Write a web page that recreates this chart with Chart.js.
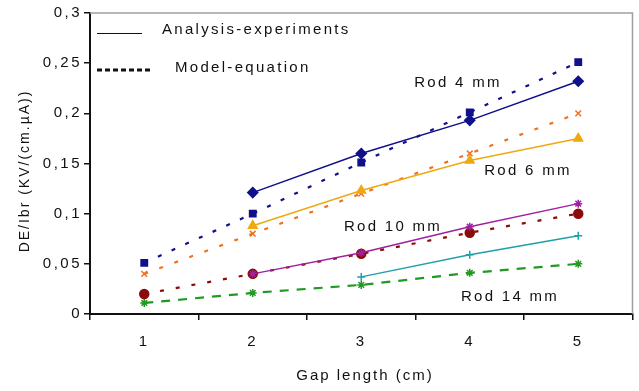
<!DOCTYPE html>
<html>
<head>
<meta charset="utf-8">
<script src="https://cdn.jsdelivr.net/npm/chart.js@4"></script>
<style>
  html, body { margin: 0; padding: 0; background: #fff; }
  #wrap { width: 639px; height: 391px; }
</style>
</head>
<body>
<div id="wrap"><canvas id="chart" width="639" height="391"></canvas></div>
<script>
// gap length categories (cm)
const gaps = ['1', '2', '3', '4', '5'];

// analysis-experiments (solid lines)
const rod4Analysis = [null, 0.121, 0.160, 0.193, 0.232];
const rod6Analysis = [null, 0.088, 0.123, 0.153, 0.175];
const rod10Analysis = [null, 0.040, 0.061, 0.087, 0.110];
const rod14Analysis = [null, null, 0.037, 0.059, 0.078];

// model-equation (dashed lines)
const rod4Model = [0.051, 0.100, 0.151, 0.201, 0.251];
const rod6Model = [0.040, 0.080, 0.120, 0.160, 0.200];
const rod10Model = [0.020, 0.040, 0.060, 0.081, 0.100];
const rod14Model = [0.011, 0.021, 0.029, 0.041, 0.050];

const yTicks = [0, 0.05, 0.1, 0.15, 0.2, 0.25, 0.3];
const yTickLabels = ['0', '0,05', '0,1', '0,15', '0,2', '0,25', '0,3'];

const rodLabels = [
    { text: 'Rod 4 mm', x: 458, y: 83 },
    { text: 'Rod 6 mm', x: 528, y: 171 },
    { text: 'Rod 10 mm', x: 393, y: 227 },
    { text: 'Rod 14 mm', x: 510, y: 297 }
];

const FONT = '"Liberation Sans", Arial, sans-serif';

function solid(label, data, color, style, radius) {
    return {
        label, data, borderColor: color, backgroundColor: color,
        borderWidth: 1.5, pointStyle: style, pointRadius: radius,
        pointBorderWidth: 1.5, order: 1
    };
}

function dashed(label, data, color, style, radius, dash) {
    return {
        label, data, borderColor: color, backgroundColor: color,
        borderWidth: 2.2, borderDash: dash, pointStyle: style, pointRadius: radius,
        pointBorderWidth: 1.5, order: 2
    };
}

const textPlugin = {
    id: 'texts',
    beforeDraw(chart) {
        // wide letter spacing for all texts, ticks included
        chart.ctx.letterSpacing = '2.5px';
    },
    beforeDatasetsDraw(chart) {
        const { ctx, chartArea } = chart;
        ctx.save();
        ctx.strokeStyle = '#a0a0a0';
        ctx.lineWidth = 1.5;
        ctx.beginPath();
        ctx.moveTo(chartArea.left, chartArea.top);
        ctx.lineTo(chartArea.right, chartArea.top);
        ctx.lineTo(chartArea.right, chartArea.bottom);
        ctx.stroke();
        ctx.restore();
    },
    afterDraw(chart) {
        const { ctx } = chart;
        ctx.save();
        ctx.fillStyle = '#111';
        ctx.font = '15px ' + FONT;
        ctx.letterSpacing = '2.3px';
        ctx.textBaseline = 'middle';

        // legend
        ctx.strokeStyle = '#111';
        ctx.lineWidth = 1;
        ctx.beginPath();
        ctx.moveTo(97, 33.5);
        ctx.lineTo(142, 33.5);
        ctx.stroke();
        ctx.lineWidth = 3;
        ctx.setLineDash([5, 3]);
        ctx.beginPath();
        ctx.moveTo(97, 70);
        ctx.lineTo(151, 70);
        ctx.stroke();
        ctx.setLineDash([]);
        ctx.textAlign = 'left';
        ctx.fillText('Analysis-experiments', 162, 30);
        ctx.fillText('Model-equation', 175, 68);

        // rod labels
        ctx.textAlign = 'center';
        rodLabels.forEach(l => ctx.fillText(l.text, l.x, l.y));

        // axis titles
        ctx.letterSpacing = '2px';
        ctx.fillText('Gap length (cm)', 365, 376);
        ctx.font = '14px ' + FONT;
        ctx.translate(25, 171);
        ctx.rotate(-Math.PI / 2);
        ctx.fillText('DE/Ibr (KV/(cm.\u00b5A))', 0, 0);
        ctx.restore();
    }
};

new Chart(document.getElementById('chart'), {
    type: 'line',
    data: {
        labels: gaps,
        datasets: [
            solid('Rod 4 mm analysis', rod4Analysis, '#10108a', 'rectRot', 5),
            dashed('Rod 4 mm model', rod4Model, '#10108a', 'rect', 4.5, [4, 11]),
            solid('Rod 6 mm analysis', rod6Analysis, '#f0a810', 'triangle', 5),
            dashed('Rod 6 mm model', rod6Model, '#f07020', 'crossRot', 4, [4, 12]),
            solid('Rod 10 mm analysis', rod10Analysis, '#a020a0', 'star', 4),
            dashed('Rod 10 mm model', rod10Model, '#8b0a0a', 'circle', 4.5, [4, 12]),
            solid('Rod 14 mm analysis', rod14Analysis, '#20a0a8', 'cross', 4),
            dashed('Rod 14 mm model', rod14Model, '#229922', 'star', 4, [9, 8])
        ]
    },
    options: {
        responsive: false,
        animation: false,
        layout: { padding: { left: 0, top: 13, right: 3, bottom: 0 } },
        plugins: {
            legend: { display: false },
            tooltip: { enabled: false }
        },
        scales: {
            x: {
                offset: true,
                grid: {
                    offset: true, drawOnChartArea: false, drawTicks: true,
                    tickLength: 6, color: '#111', lineWidth: 1.5
                },
                border: { color: '#111', width: 2 },
                ticks: {
                    color: '#111', padding: 13,
                    font: { family: FONT, size: 15 }
                },
                afterFit: s => { s.height = 77; }
            },
            y: {
                min: 0, max: 0.3,
                afterBuildTicks: s => { s.ticks = yTicks.map(v => ({ value: v })); },
                grid: {
                    drawOnChartArea: false, drawTicks: true,
                    tickLength: 6, color: '#111', lineWidth: 1.5
                },
                border: { color: '#111', width: 2 },
                ticks: {
                    color: '#111', padding: 2,
                    font: { family: FONT, size: 15 },
                    callback: v => yTickLabels[yTicks.findIndex(t => Math.abs(t - v) < 1e-9)]
                },
                afterFit: s => { s.width = 90; }
            }
        }
    },
    plugins: [textPlugin]
});
</script>
</body>
</html>
